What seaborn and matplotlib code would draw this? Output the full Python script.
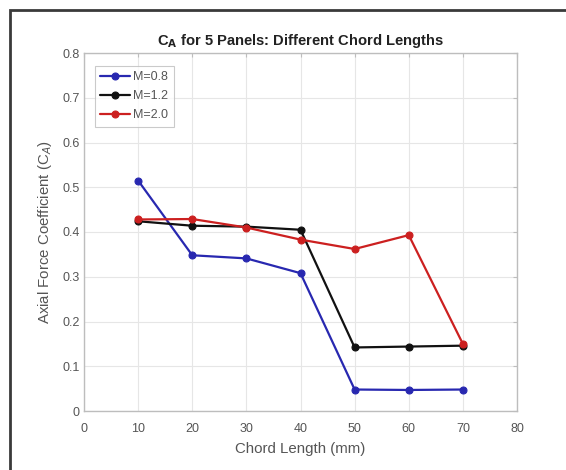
import matplotlib
matplotlib.use("Agg")
import matplotlib.pyplot as plt
import seaborn as sns
import pandas as pd
from matplotlib.patches import Rectangle

chord = [10, 20, 30, 40, 50, 60, 70]
m08 = [0.515, 0.348, 0.341, 0.308, 0.048, 0.047, 0.048]
m12 = [0.424, 0.414, 0.412, 0.405, 0.142, 0.144, 0.146]
m20 = [0.428, 0.429, 0.410, 0.383, 0.362, 0.393, 0.150]
series = ["M=0.8", "M=1.2", "M=2.0"]
colors = ["#2828b0", "#111111", "#cc2020"]
xticks = [0, 10, 20, 30, 40, 50, 60, 70, 80]
yticks = [0, 0.1, 0.2, 0.3, 0.4, 0.5, 0.6, 0.7, 0.8]

rows = []
for name, vals in zip(series, [m08, m12, m20]):
    for x, v in zip(chord, vals):
        rows.append({"Chord": x, "CA": v, "Mach": name})
df = pd.DataFrame(rows)

sns.set_style("white")
plt.rcParams["font.family"] = ["Liberation Sans", "DejaVu Sans"]

fig = plt.figure(figsize=(5.66, 4.70), dpi=100)
ax = fig.add_axes([84/566, 1-411/470, (517-84)/566, (411-53)/470])

sns.lineplot(data=df, x="Chord", y="CA", hue="Mach", palette=colors,
             marker="o", markersize=5, linewidth=1.6, markeredgewidth=0.8,
             ax=ax, hue_order=series)
for ln in ax.lines:
    ln.set_markeredgecolor(ln.get_color())

ax.set_xlim(0, 80)
ax.set_ylim(0, 0.8)
ax.set_xticks(xticks)
ax.set_xticklabels([str(t) for t in xticks])
ax.set_yticks(yticks)
ax.set_yticklabels(["0"] + [f"{t:.1f}" for t in yticks[1:]])
ax.grid(True, color="#e6e6e6", linewidth=0.8)
ax.set_axisbelow(True)
for s in ax.spines.values():
    s.set_color("#bdbdbd")
    s.set_linewidth(1.0)
ax.tick_params(direction="in", length=3, width=0.8, color="#bdbdbd",
               labelsize=9, labelcolor="#555555", top=True, right=True)
ax.tick_params(axis="x", pad=8.5)
ax.tick_params(axis="y", pad=3)
ax.set_xlabel("Chord Length (mm)", fontsize=10.8, color="#555555", labelpad=5)
ax.set_ylabel("Axial Force Coefficient (C$_A$)", fontsize=10.8,
              color="#555555", labelpad=6)
ax.set_title("C$_\\mathbf{A}$ for 5 Panels: Different Chord Lengths",
             fontsize=10.6, fontweight="bold", color="#222222", pad=6)

leg = ax.legend(loc="upper left", fontsize=9, frameon=True, fancybox=False,
                edgecolor="#bdbdbd", handlelength=2.4, borderpad=0.45,
                labelspacing=0.55, handletextpad=0.2, borderaxespad=0,
                bbox_to_anchor=(0.025, 0.965))
for t in leg.get_texts():
    t.set_color("#555555")
leg.get_frame().set_linewidth(0.8)

fig.patches.append(Rectangle((10/566, -0.1), 1.2, 1 - 10/470 + 0.1,
                             transform=fig.transFigure, fill=False,
                             edgecolor="#3a3a3a", linewidth=2.0))

fig.savefig("out.png", dpi=100)
